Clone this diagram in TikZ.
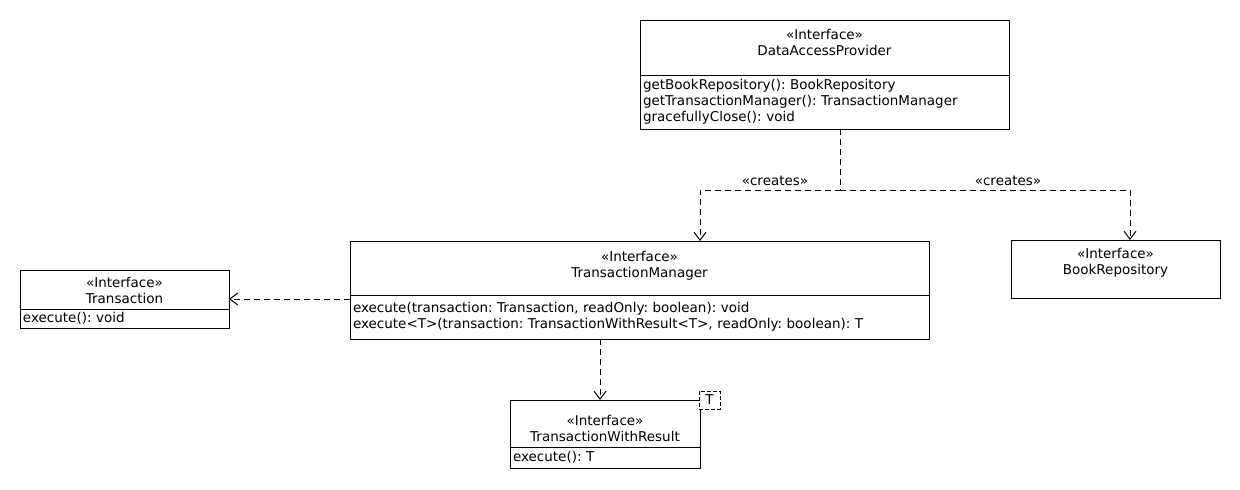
\documentclass[tikz,border=0pt]{standalone}
\usepackage{fontspec}
\setmainfont{DejaVu Sans}
\usetikzlibrary{arrows.meta}
\frenchspacing

\begin{document}
\begin{tikzpicture}[x=1pt,y=-1pt,line width=1pt,
        font=\fontsize{13.5}{16}\selectfont,
        >={Straight Barb[length=8pt,width=12pt]},
        head/.style={draw,rectangle,align=center,minimum width=#1,inner sep=0pt,outer sep=0pt,text height=26pt},
        body/.style={draw,rectangle,anchor=north,align=left,text width=#1,inner xsep=3pt,inner ysep=1.5pt,outer sep=0pt},
        dep/.style={->,dash pattern=on 6pt off 4pt}]
        \useasboundingbox(0,0)rectangle(1240,490);
        % classes
        \node [head=369pt,minimum height=55pt,text depth=10.6pt](dap)at(824.5,47.5){«Interface»\\DataAccessProvider};
        \node [body=363pt,minimum height=54pt](dapm)at(dap.south){getBookRepository(): BookRepository\\getTransactionManager(): TransactionManager\\gracefullyClose(): void};
        \node [head=579pt,minimum height=54pt,text depth=6.6pt](tm)at(639.5,268){«Interface»\\TransactionManager};
        \node [body=573pt,minimum height=44pt](tmm)at(tm.south){execute(transaction: Transaction, readOnly: boolean): void\\execute<T>(transaction: TransactionWithResult<T>, readOnly: boolean): T};
        \node [head=209pt,minimum height=58pt,text depth=15.6pt](br)at(1115.5,269){«Interface»\\BookRepository};
        \node [head=209pt,minimum height=39pt,text height=28.4pt,text depth=0pt](tr)at(124.5,289.5){«Interface»\\Transaction};
        \node [body=203pt,minimum height=19pt](trm)at(tr.south){execute(): void};
        \node [head=190pt,minimum height=47pt,text height=36.4pt,text depth=0pt](twr)at(605,423.5){«Interface»\\TransactionWithResult};
        \node [body=184pt,minimum height=21pt](twrm)at(twr.south){execute(): T};
        \node [draw,rectangle,fill=white,dash pattern=on 4pt off 2pt,minimum width=21pt,minimum height=18pt,inner sep=0pt](tp)at(709.5,400){T};
        % dependencies
        \coordinate(s)at(840,190);
        \coordinate(l)at(700,190);
        \coordinate(r)at(1130,190);
        \draw[dep](s |- dapm.south)--(s)-|(l |- tm.north);
        \draw[dep](s)-|(r |- br.north);
        \node(c1)at(775,181){«creates»};
        \node(c2)at(1008,181){«creates»};
        \coordinate(t)at([yshift=-4pt]tmm.north west);
        \draw[dep](t)--(t -| trm.east);
        \coordinate(u)at([xshift=-39.5pt]tmm.south);
        \draw[dep](u)--(u |- twr.north);
\end{tikzpicture}
\end{document}
